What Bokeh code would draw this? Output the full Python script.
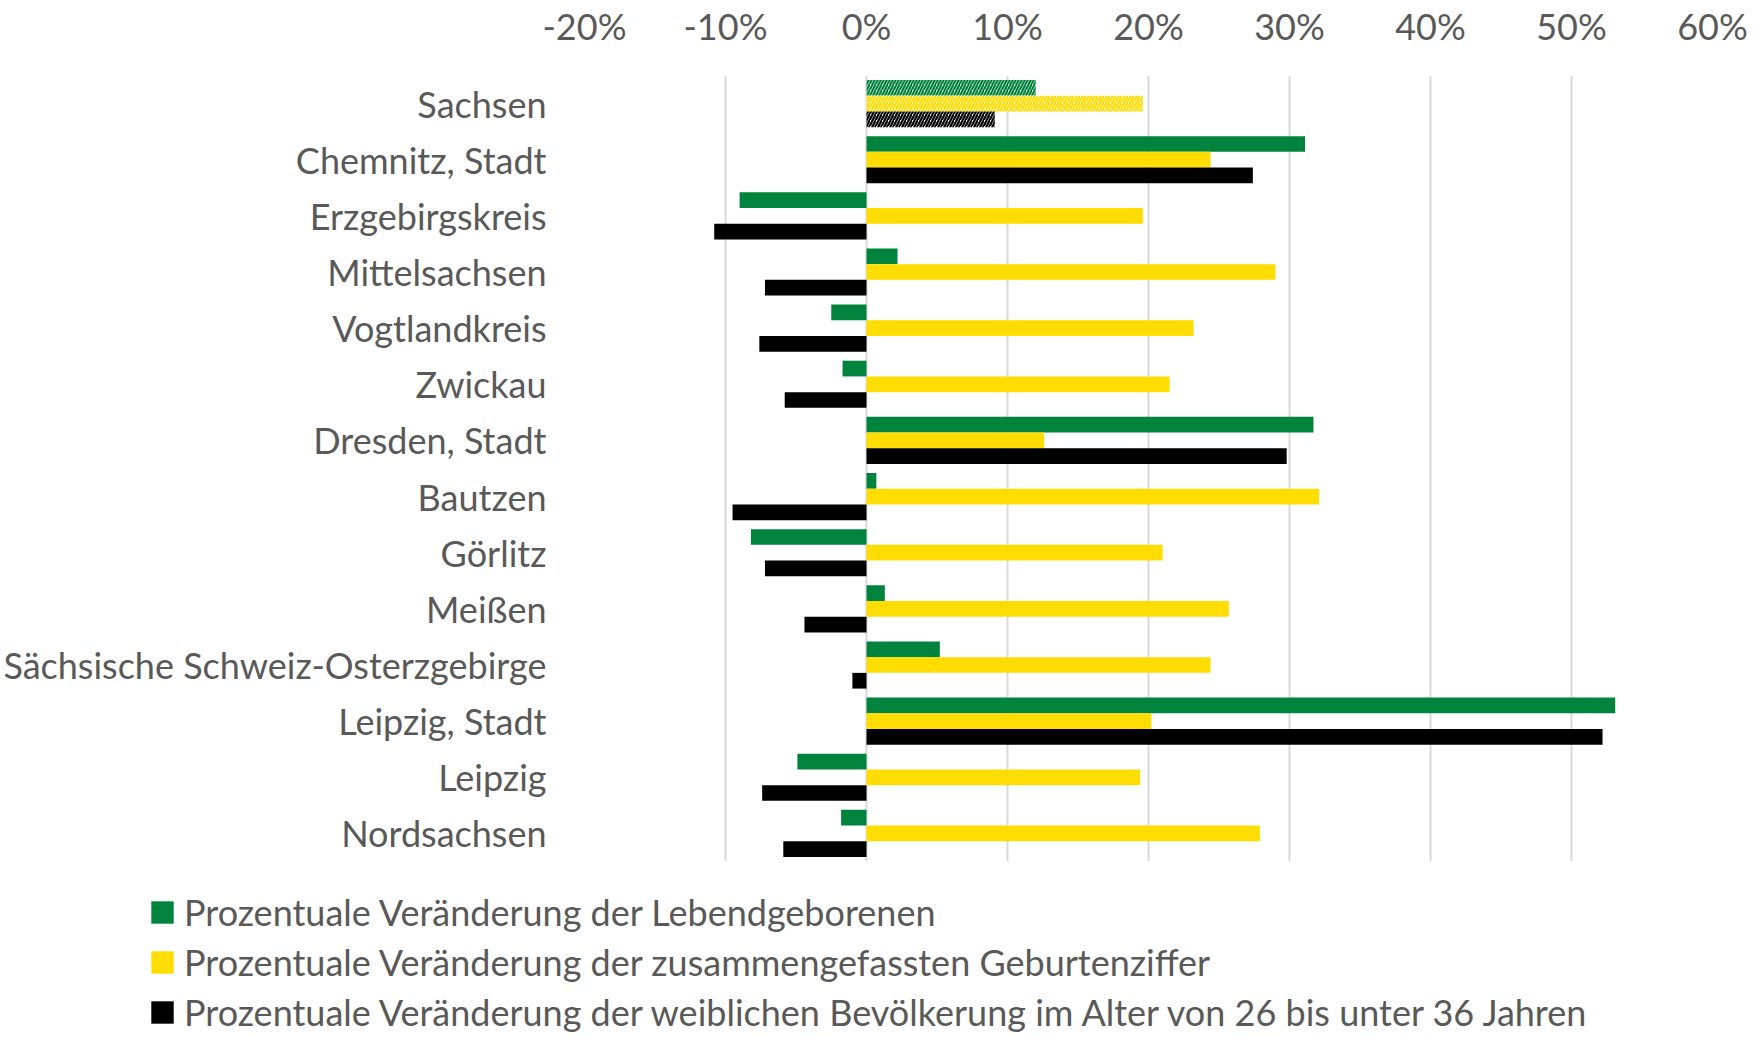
from bokeh.plotting import figure
from bokeh.models import ColumnDataSource, FactorRange, FixedTicker, NumeralTickFormatter, Legend, LegendItem
from bokeh.transform import dodge
from bokeh.embed import file_html
from bokeh.resources import INLINE

categories = ["Sachsen", "Chemnitz, Stadt", "Erzgebirgskreis", "Mittelsachsen", "Vogtlandkreis",
              "Zwickau", "Dresden, Stadt", "Bautzen", "Görlitz", "Meißen",
              "Sächsische Schweiz-Osterzgebirge", "Leipzig, Stadt", "Leipzig", "Nordsachsen"]
lebendgeborene = [0.120, 0.311, -0.090, 0.022, -0.025, -0.017, 0.317, 0.007, -0.082, 0.013,
                  0.052, 0.531, -0.049, -0.018]
geburtenziffer = [0.196, 0.244, 0.196, 0.290, 0.232, 0.215, 0.126, 0.321, 0.210, 0.257,
                  0.244, 0.202, 0.194, 0.279]
frauen_26_36 = [0.091, 0.274, -0.108, -0.072, -0.076, -0.058, 0.298, -0.095, -0.072, -0.044,
                -0.010, 0.522, -0.074, -0.059]
series_labels = ["Prozentuale Veränderung der Lebendgeborenen",
                 "Prozentuale Veränderung der zusammengefassten Geburtenziffer",
                 "Prozentuale Veränderung der weiblichen Bevölkerung im Alter von 26 bis unter 36 Jahren"]
x_ticks = [-0.2, -0.1, 0.0, 0.1, 0.2, 0.3, 0.4, 0.5, 0.6]

colors = ["#00843D", "#FFDD00", "#000000"]
FONT = "Lato"
TXT = "#595959"

W = 1744

p = figure(width=W, height=864, output_backend="svg", toolbar_location=None,
           frame_width=1128, frame_height=786,
           y_range=FactorRange(factors=list(reversed(categories))),
           x_range=(-0.2, 0.6), x_axis_location="above",
           min_border_left=577, min_border_right=39, min_border_top=70, min_border_bottom=8)
p.outline_line_color = None

solid = ColumnDataSource(dict(cat=categories[1:], a=lebendgeborene[1:], b=geburtenziffer[1:], c=frauen_26_36[1:]))
hatch = ColumnDataSource(dict(cat=categories[:1], a=lebendgeborene[:1], b=geburtenziffer[:1], c=frauen_26_36[:1]))

h = 0.28
offs = [h, 0.0, -h]
for col, off, colr in zip(["a", "b", "c"], offs, colors):
    p.hbar(y=dodge("cat", off, range=p.y_range), left=0, right=col, height=h,
           source=solid, fill_color=colr, line_color=None)
    p.hbar(y=dodge("cat", off, range=p.y_range), left=0, right=col, height=h,
           source=hatch, fill_color="white", line_color=None,
           hatch_pattern="/", hatch_color=colr, hatch_scale=6, hatch_weight=2.2)

xa = p.xaxis[0]
xa.ticker = FixedTicker(ticks=x_ticks)
xa.formatter = NumeralTickFormatter(format="0%")
xa.axis_line_color = None
xa.major_tick_line_color = None
xa.minor_tick_line_color = None
xa.major_label_text_font = FONT
xa.major_label_text_font_size = "36px"
xa.major_label_text_color = TXT
xa.major_label_standoff = 22

ya = p.yaxis[0]
ya.axis_line_color = None
ya.major_tick_line_color = None
ya.minor_tick_line_color = None
ya.major_label_text_font = FONT
ya.major_label_text_font_size = "36px"
ya.major_label_text_color = TXT
ya.major_label_standoff = 32

p.xgrid.grid_line_color = "#D9D9D9"
p.xgrid.grid_line_width = 2
p.ygrid.grid_line_color = None

# legend-only figure; its swatch renderers are hidden, only the legend is shown
q = figure(width=W, height=165, output_backend="svg", toolbar_location=None,
           y_range=FactorRange(factors=list(reversed(categories))), x_range=(-0.2, 0.6),
           min_border_left=0, min_border_right=0, min_border_top=0, min_border_bottom=0)
q.axis.visible = False
q.grid.visible = False
q.outline_line_color = None
swatches = []
for col, colr in zip(["a", "b", "c"], colors):
    r = q.hbar(y="cat", left=0, right=col, height=h, source=solid, fill_color=colr, line_color=None)
    r.visible = False
    swatches.append(r)
legend = Legend(items=[LegendItem(label=l, renderers=[r]) for l, r in zip(series_labels, swatches)],
                location=(148, 0), orientation="vertical",
                label_text_font=FONT, label_text_font_size="36px", label_text_color=TXT,
                glyph_width=28, glyph_height=28, label_standoff=8, spacing=6,
                padding=0, margin=0, border_line_color=None, background_fill_alpha=0,
                inactive_fill_alpha=0)
q.add_layout(legend, "center")

open("out.html", "w").write(file_html([p, q], INLINE))
